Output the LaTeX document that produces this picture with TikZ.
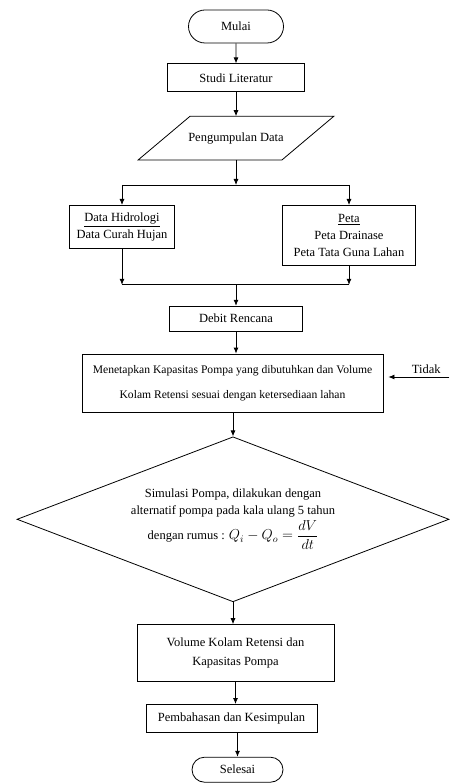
\documentclass[tikz,border=0pt]{standalone}
\usepackage{amsmath}
\usepackage{fontspec}
\setmainfont{Liberation Serif}
\usetikzlibrary{positioning, arrows.meta, shapes.geometric, shapes.misc, calc}

\begin{document}
\begin{tikzpicture}[
  x=1pt, y=1pt,
  font=\fontsize{12.5}{17}\selectfont,
  line width=0.8pt,
  terminal/.style={rounded rectangle, draw, inner sep=2pt},
  process/.style={rectangle, draw, align=center, inner sep=2pt},
  decision/.style={diamond, draw, aspect=2.6, align=center, inner sep=0pt},
  arrow/.style={-{Latex[length=6pt,width=5pt]}}
]
  \useasboundingbox (0,0) rectangle (449,-783);

  % Nodes
  \node[terminal, minimum width=99pt, minimum height=33pt] (mulai) at (236,-26.5) {Mulai};
  \node[process, minimum width=137pt, minimum height=28pt, below=20pt of mulai] (studi) {Studi Literatur};
  \node[minimum width=143pt, minimum height=43pt, inner sep=0pt, below=24pt of studi] (data) {Pengumpulan Data};
  \draw ([xshift=-26pt]data.south west) -- ([xshift=26pt]data.north west)
    -- ([xshift=26pt]data.north east) -- ([xshift=-26pt]data.south east) -- cycle;
  \coordinate[below=25pt of data] (split);
  \node[process, minimum width=105pt, minimum height=43pt, below=45pt of data, xshift=-114pt] (hidro)
    {\underline{Data Hidrologi}\\Data Curah Hujan};
  \node[process, minimum width=133pt, minimum height=60pt, below=45pt of data, xshift=113pt] (peta)
    {\underline{Peta}\\Peta Drainase\\Peta Tata Guna Lahan};
  \coordinate[below=19pt of peta] (joinr);
  \coordinate (join) at (data |- joinr);
  \node[process, minimum width=133pt, minimum height=25pt, below=21pt of join] (debit) {Debit Rencana};
  \node[process, minimum width=301pt, minimum height=58pt, below=22pt of debit, xshift=-3.5pt,
    font=\fontsize{11.6}{25}\selectfont] (ket)
    {Menetapkan Kapasitas Pompa yang dibutuhkan dan Volume\\Kolam Retensi sesuai dengan ketersediaan lahan};
  \node[decision, minimum width=432pt, minimum height=165pt, below=24pt of ket, xshift=0.5pt] (sim)
    {Simulasi Pompa, dilakukan dengan\\alternatif pompa pada kala ulang 5 tahun\\[2pt]
     dengan rumus : {\fontsize{14}{17}\selectfont $Q_{i} - Q_{o} = \dfrac{dV}{dt}$}};
  \node[process, minimum width=197pt, minimum height=57pt, below=22pt of sim, xshift=2.5pt,
    font=\fontsize{12.5}{19}\selectfont] (volume)
    {Volume Kolam Retensi dan\\Kapasitas Pompa};
  \node[process, minimum width=171pt, minimum height=28pt, below=22pt of volume, xshift=-4pt] (bahas)
    {Pembahasan dan Kesimpulan};
  \node[terminal, minimum width=95pt, minimum height=25pt, below=24pt of bahas, xshift=6pt] (selesai) {Selesai};
  \coordinate[right=66pt of ket.east, yshift=6pt] (tidakr);

  % Arrows
  \draw[arrow] (mulai) -- (studi);
  \draw[arrow] (studi) -- (studi |- data.north);
  \draw[arrow] (data.south) -- (split);
  \draw (split -| hidro) -- (split -| peta);
  \draw[arrow] (split -| hidro) -- (hidro);
  \draw[arrow] (split -| peta) -- (peta);
  \draw[arrow] (hidro) -- (hidro |- joinr);
  \draw[arrow] (peta) -- (joinr);
  \draw (hidro |- joinr) -- (joinr);
  \draw[arrow] (join) -- (debit);
  \draw[arrow] (debit) -- (debit |- ket.north);
  \draw[arrow] (ket.south -| sim.north) -- (sim.north);
  \draw[arrow] (sim.south) -- (sim.south |- volume.north);
  \draw[arrow] (volume) -- (volume |- bahas.north);
  \draw[arrow] (bahas.south -| selesai) -- (selesai);
  \draw[arrow, shorten >=5pt] (tidakr) -- (tidakr -| ket.east) node[pos=0.35, above] (tidak) {Tidak};
\end{tikzpicture}
\end{document}
